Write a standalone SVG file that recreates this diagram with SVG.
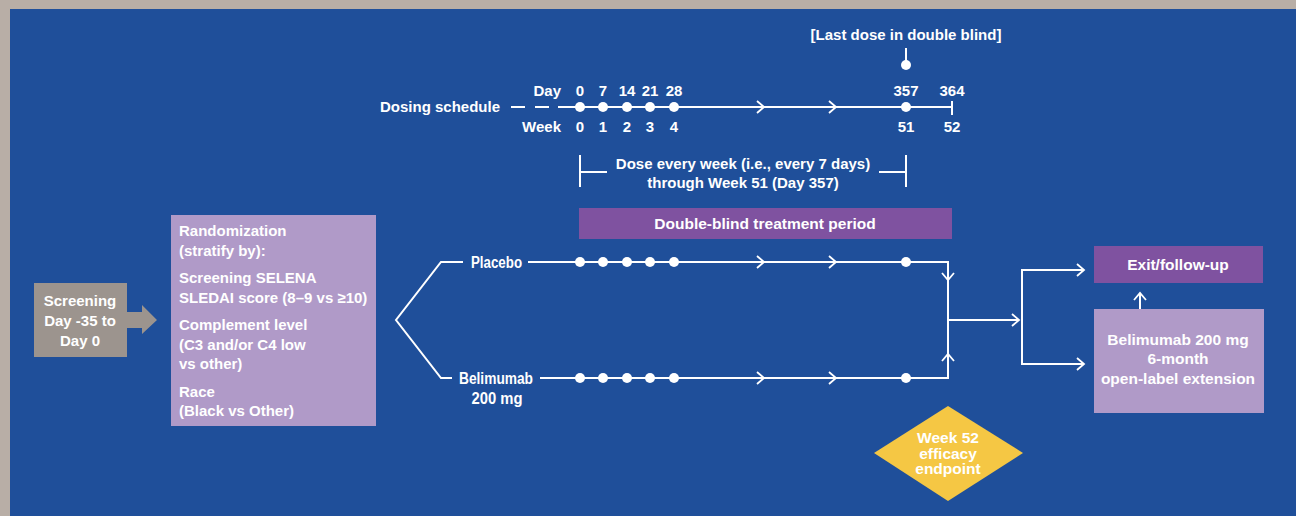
<svg xmlns="http://www.w3.org/2000/svg" width="1296" height="516" viewBox="0 0 1296 516">
<style>
text{font-family:"Liberation Sans",Arial,sans-serif;font-weight:bold;fill:#fff;font-size:15px}
.c{text-anchor:middle}
.e{text-anchor:end}
.big{font-size:15.5px}
.arm{font-size:16px}
.ln{stroke:#fff;stroke-width:2;fill:none}
.dot{fill:#fff}
</style>
<defs>
<marker id="chev" markerUnits="userSpaceOnUse" markerWidth="14" markerHeight="16" refX="8" refY="7" orient="auto">
<path d="M1,1 L8,7 L1,13" stroke="#fff" stroke-width="1.8" fill="none"/>
</marker>
</defs>
<rect x="0" y="0" width="1296" height="516" fill="#b8aea6"/>
<rect x="10" y="9" width="1286" height="507" fill="#1f4f9a"/>

<g id="timeline">
<text x="500" y="112" class="e">Dosing schedule</text>
<path class="ln" d="M511,107 H525 M535,107 H549 M558,107 H952 M952,101 V115"/>
<path class="ln" d="M745,107 H764" marker-end="url(#chev)"/>
<path class="ln" d="M815,107 H836" marker-end="url(#chev)"/>
<circle class="dot" cx="580" cy="107" r="5"/>
<circle class="dot" cx="603" cy="107" r="5"/>
<circle class="dot" cx="627" cy="107" r="5"/>
<circle class="dot" cx="650" cy="107" r="5"/>
<circle class="dot" cx="674" cy="107" r="5"/>
<circle class="dot" cx="906" cy="107" r="5"/>
<text x="561" y="96" class="e">Day</text>
<text x="580" y="96" class="c">0</text>
<text x="603" y="96" class="c">7</text>
<text x="627" y="96" class="c">14</text>
<text x="650" y="96" class="c">21</text>
<text x="674" y="96" class="c">28</text>
<text x="906" y="96" class="c">357</text>
<text x="952" y="96" class="c">364</text>
<text x="561" y="132" class="e">Week</text>
<text x="580" y="132" class="c">0</text>
<text x="603" y="132" class="c">1</text>
<text x="627" y="132" class="c">2</text>
<text x="650" y="132" class="c">3</text>
<text x="674" y="132" class="c">4</text>
<text x="906" y="132" class="c">51</text>
<text x="952" y="132" class="c">52</text>
</g>

<g id="last-dose">
<text x="906" y="40" class="c">[Last dose in double blind]</text>
<path class="ln" d="M906,48 V62"/>
<circle class="dot" cx="906" cy="65" r="5"/>
</g>

<g id="dose-bracket">
<path class="ln" d="M580,155 V187 M580,172 H607 M906,155 V187 M906,172 H879"/>
<text x="743" y="169" class="c">Dose every week (i.e., every 7 days)</text>
<text x="743" y="188" class="c">through Week 51 (Day 357)</text>
</g>

<g id="double-blind">
<rect x="579" y="208" width="373" height="31" fill="#7f52a0"/>
<text x="765" y="229" class="c big">Double-blind treatment period</text>
</g>

<g id="screening">
<rect x="34" y="283" width="93" height="74" fill="#9c948e"/>
<path d="M127,312 H142 V305 L157,320 L142,334 V328 H127 Z" fill="#9c948e"/>
<text x="80" y="306" class="c">Screening</text>
<text x="80" y="326" class="c">Day -35 to</text>
<text x="80" y="346" class="c">Day 0</text>
</g>

<g id="randomization">
<rect x="171" y="215" width="205" height="211" fill="#b09ac8"/>
<text x="179" y="236">Randomization</text>
<text x="179" y="256">(stratify by):</text>
<text x="179" y="283">Screening SELENA</text>
<text x="179" y="303">SLEDAI score (8–9 vs ≥10)</text>
<text x="179" y="330">Complement level</text>
<text x="179" y="350">(C3 and/or C4 low</text>
<text x="179" y="369">vs other)</text>
<text x="179" y="397">Race</text>
<text x="179" y="416">(Black vs Other)</text>
</g>

<g id="placebo">
<text x="471" y="268" class="arm" textLength="51" lengthAdjust="spacingAndGlyphs">Placebo</text>
<circle class="dot" cx="580" cy="262" r="5"/>
<circle class="dot" cx="603" cy="262" r="5"/>
<circle class="dot" cx="627" cy="262" r="5"/>
<circle class="dot" cx="650" cy="262" r="5"/>
<circle class="dot" cx="674" cy="262" r="5"/>
<circle class="dot" cx="906" cy="262" r="5"/>
</g>

<g id="belimumab">
<text x="459" y="384" class="arm" textLength="74" lengthAdjust="spacingAndGlyphs">Belimumab</text>
<text x="497" y="404" class="c arm" textLength="51" lengthAdjust="spacingAndGlyphs">200 mg</text>
<circle class="dot" cx="580" cy="378" r="5"/>
<circle class="dot" cx="603" cy="378" r="5"/>
<circle class="dot" cx="627" cy="378" r="5"/>
<circle class="dot" cx="650" cy="378" r="5"/>
<circle class="dot" cx="674" cy="378" r="5"/>
<circle class="dot" cx="906" cy="378" r="5"/>
</g>

<g id="connectors">
<path class="ln" d="M463,262 H441 L396,320 L441,378 H452"/>
<path class="ln" d="M528,262 H948 V378 H540"/>
<path class="ln" d="M745,262 H764" marker-end="url(#chev)"/>
<path class="ln" d="M815,262 H836" marker-end="url(#chev)"/>
<path class="ln" d="M745,378 H764" marker-end="url(#chev)"/>
<path class="ln" d="M815,378 H836" marker-end="url(#chev)"/>
<path class="ln" d="M948,265 V280" marker-end="url(#chev)"/>
<path class="ln" d="M948,375 V354" marker-end="url(#chev)"/>
<path class="ln" d="M948,320 H1019" marker-end="url(#chev)"/>
<path class="ln" d="M1084,270 H1022 V364 H1084"/>
<path class="ln" d="M1060,270 H1084" marker-end="url(#chev)"/>
<path class="ln" d="M1060,364 H1084" marker-end="url(#chev)"/>
<path class="ln" d="M1140,309 V293" marker-end="url(#chev)"/>
</g>

<g id="exit">
<rect x="1094" y="246" width="169" height="37" fill="#7f52a0"/>
<text x="1178" y="270" class="c big">Exit/follow-up</text>
</g>

<g id="extension">
<rect x="1094" y="309" width="170" height="104" fill="#b09ac8"/>
<text x="1178" y="345" class="c big">Belimumab 200 mg</text>
<text x="1178" y="364" class="c big">6-month</text>
<text x="1178" y="384" class="c big">open-label extension</text>
</g>

<g id="endpoint">
<polygon points="948,406 1023,453 948,501 874,453" fill="#f5c744"/>
<text x="948" y="443" class="c big">Week 52</text>
<text x="948" y="459" class="c big">efficacy</text>
<text x="948" y="474" class="c big">endpoint</text>
</g>
</svg>
